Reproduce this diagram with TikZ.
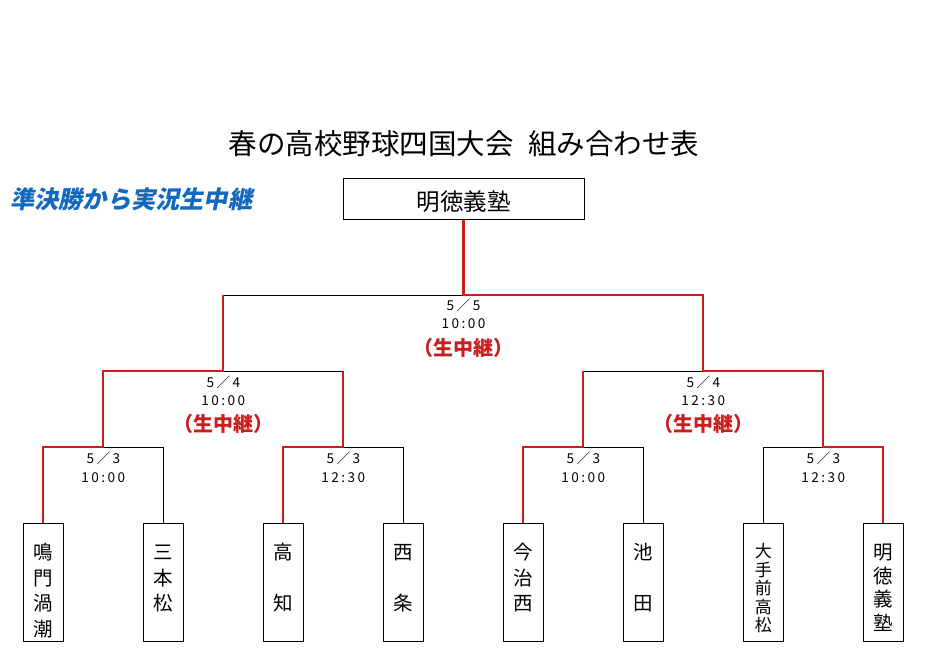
\documentclass[tikz,border=0pt]{standalone}
\usepackage{fontspec}
\newfontfamily\jp{Noto Sans CJK JP}
\newfontfamily\jpdate{Noto Sans CJK JP}[LetterSpace=18]
\newfontfamily\jpsl{Noto Sans CJK JP}[FakeSlant=0.2]
\definecolor{winred}{RGB}{200,30,30}
\definecolor{liveblue}{RGB}{20,105,190}
\begin{document}
\begin{tikzpicture}[x=1pt,y=-1pt,
  loser/.style={draw=black,line width=1pt},
  winner/.style={draw=winred,line width=2.3pt,line join=miter},
  team/.style={draw=black,line width=1pt,minimum width=40pt,minimum height=118pt,inner sep=0pt},
  champbox/.style={draw=black,line width=1pt,minimum width=241pt,minimum height=41pt,inner sep=0pt},
  tname/.style={font=\jp\fontsize{19.5}{21}\selectfont,inner sep=0pt,anchor=base},
  tsmall/.style={font=\jp\fontsize{17}{19}\selectfont,inner sep=0pt,anchor=base},
  datetxt/.style={font=\jpdate\fontsize{13.6}{16}\selectfont,inner sep=0pt,anchor=base},
  livetxt/.style={font=\jp\bfseries\fontsize{20}{22}\selectfont,text=winred,inner sep=0pt,anchor=base}]
\useasboundingbox[fill=white] (0,0) rectangle (931,660);

% title and notes
\node[font=\jp\fontsize{28.5}{32}\selectfont,inner sep=0pt,anchor=base] (title) at (464,155)
  {春の高校野球四国大会\hspace{0.5em}組み合わせ表};
\node[font=\jpsl\bfseries\fontsize{24.2}{26}\selectfont,text=liveblue,inner sep=0pt,anchor=base west] (live) at (10,209)
  {準決勝から実況生中継};

% champion box
\node[champbox] (champ) at (463.5,198.8) {};
\node[font=\jp\fontsize{23.5}{25}\selectfont,inner sep=0pt,anchor=base] (champtxt) at (463.5,210.5) {明徳義塾};

% team boxes
\node[team] (b1) at (43.3,582) {};
\node[team] (b2) at (163.3,582) {};
\node[team] (b3) at (283.3,582) {};
\node[team] (b4) at (403.3,582) {};
\node[team] (b5) at (523.3,582) {};
\node[team] (b6) at (643.3,582) {};
\node[team] (b7) at (763.3,582) {};
\node[team] (b8) at (883.3,582) {};

% team names (vertical)
\foreach \c/\yy [count=\i] in {鳴/559.5,門/585,渦/610.5,潮/636}
  \node[tname] (n1-\i) at (43.3,\yy) {\c};
\foreach \c/\yy [count=\i] in {三/559.5,本/585,松/610.5}
  \node[tname] (n2-\i) at (163.3,\yy) {\c};
\foreach \c/\yy [count=\i] in {高/559.5,知/610.5}
  \node[tname] (n3-\i) at (283.3,\yy) {\c};
\foreach \c/\yy [count=\i] in {西/559.5,条/610.5}
  \node[tname] (n4-\i) at (403.3,\yy) {\c};
\foreach \c/\yy [count=\i] in {今/559.5,治/585,西/610.5}
  \node[tname] (n5-\i) at (523.3,\yy) {\c};
\foreach \c/\yy [count=\i] in {池/559.5,田/610.5}
  \node[tname] (n6-\i) at (643.3,\yy) {\c};
\foreach \c/\yy [count=\i] in {大/557.5,手/576,前/594.5,高/613,松/631.5}
  \node[tsmall] (n7-\i) at (763.3,\yy) {\c};
\foreach \c/\yy [count=\i] in {明/559.5,徳/583,義/606.5,塾/630}
  \node[tname] (n8-\i) at (883.3,\yy) {\c};

% bracket junctions
\coordinate (c11) at (43.3,447);  \coordinate (c1m) at (103.3,447); \coordinate (c12) at (163.3,447);
\coordinate (c21) at (283.3,447); \coordinate (c2m) at (343.3,447); \coordinate (c22) at (403.3,447);
\coordinate (c31) at (523.3,447); \coordinate (c3m) at (583.3,447); \coordinate (c32) at (643.3,447);
\coordinate (c41) at (763.3,447); \coordinate (c4m) at (823.3,447); \coordinate (c42) at (883.3,447);
\coordinate (s11) at (103.3,371); \coordinate (s1m) at (223.3,371); \coordinate (s12) at (343.3,371);
\coordinate (s21) at (583.3,371); \coordinate (s2m) at (703.3,371); \coordinate (s22) at (823.3,371);
\coordinate (f1) at (223.3,295);  \coordinate (f2) at (703.3,295);
\coordinate (fm) at (champ.south |- f1);

% losing paths (black)
\draw[loser] (c1m) -- (c12) -- (b2.north);
\draw[loser] (c2m) -- (c22) -- (b4.north);
\draw[loser] (c3m) -- (c32) -- (b6.north);
\draw[loser] (b7.north) -- (c41) -- (c4m);
\draw[loser] (s1m) -- (s12);
\draw[loser] (s21) -- (s2m);
\draw[loser] (f1) -- (fm);

% winning paths (red)
\draw[winner] (b1.north) -- (c11) -- (c1m) -- (s11) -- (s1m) -- (f1);
\draw[winner] (b3.north) -- (c21) -- (c2m) -- (s12);
\draw[winner] (b5.north) -- (c31) -- (c3m) -- (s21);
\draw[winner] (b8.north) -- (c42) -- (c4m) -- (s22) -- (s2m) -- (f2) -- (fm) -- (champ.south);

% match labels
\node[datetxt] (d1a) at (103.3,463) {5／3};
\node[datetxt] (d1b) at (103.3,482) {10:00};
\node[datetxt] (d2a) at (343.3,463) {5／3};
\node[datetxt] (d2b) at (343.3,482) {12:30};
\node[datetxt] (d3a) at (583.3,463) {5／3};
\node[datetxt] (d3b) at (583.3,482) {10:00};
\node[datetxt] (d4a) at (823.3,463) {5／3};
\node[datetxt] (d4b) at (823.3,482) {12:30};

\node[datetxt] (s1a) at (223.3,387) {5／4};
\node[datetxt] (s1b) at (223.3,405) {10:00};
\node[livetxt] (s1c) at (223.3,431) {（生中継）};
\node[datetxt] (s2a) at (703.3,387) {5／4};
\node[datetxt] (s2b) at (703.3,405) {12:30};
\node[livetxt] (s2c) at (703.3,431) {（生中継）};

\node[datetxt] (fa) at (463.5,310) {5／5};
\node[datetxt] (fb) at (463.5,328) {10:00};
\node[livetxt] (fc) at (463.5,355) {（生中継）};
\end{tikzpicture}
\end{document}
